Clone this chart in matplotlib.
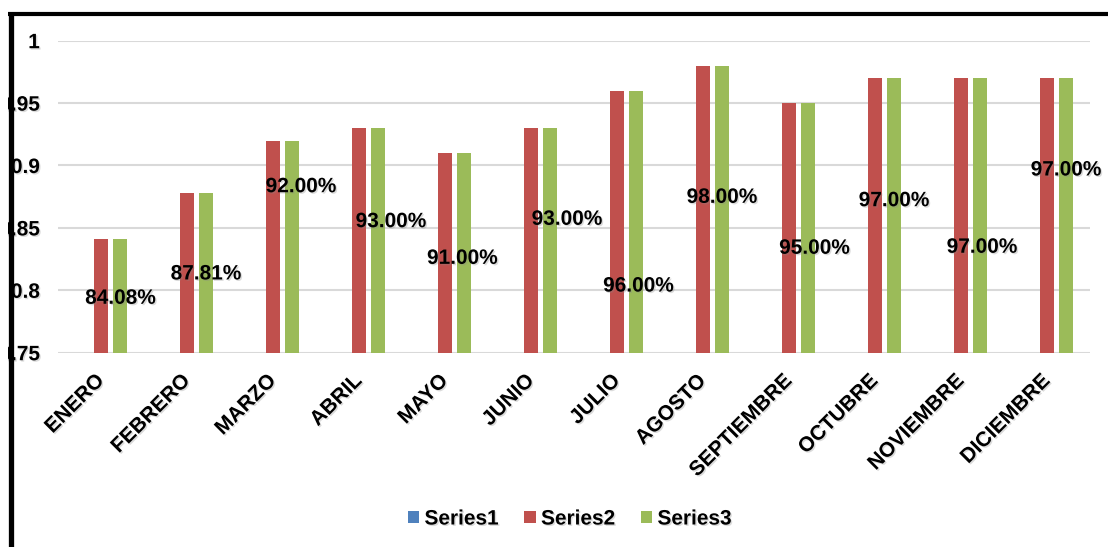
import matplotlib
matplotlib.use("Agg")
import matplotlib.pyplot as plt
import matplotlib.patheffects as pe
from matplotlib.lines import Line2D
from matplotlib.patches import Rectangle
import numpy as np

# ---- data ----
months = ["ENERO", "FEBRERO", "MARZO", "ABRIL", "MAYO", "JUNIO", "JULIO",
          "AGOSTO", "SEPTIEMBRE", "OCTUBRE", "NOVIEMBRE", "DICIEMBRE"]
series1 = [0, 0, 0, 0, 0, 0, 0, 0, 0, 0, 0, 0]
series2 = [0.8408, 0.8781, 0.92, 0.93, 0.91, 0.93, 0.96, 0.98, 0.95, 0.97, 0.97, 0.97]
series3 = [0.8408, 0.8781, 0.92, 0.93, 0.91, 0.93, 0.96, 0.98, 0.95, 0.97, 0.97, 0.97]
series_names = ["Series1", "Series2", "Series3"]
ytick_vals = [0.75, 0.8, 0.85, 0.9, 0.95, 1.0]
ytick_labels = ["0.75", "0.8", "0.85", "0.9", "0.95", "1"]

# data-label placement (as laid out in the original chart)
label_y = [0.7936, 0.8131, 0.8830, 0.8550, 0.8256, 0.8569,
           0.8034, 0.8745, 0.8337, 0.8718, 0.8345, 0.8964]
label_dx = [0.227, 0.221, 0.326, 0.372, 0.203, 0.419,
            0.25, 0.221, 0.297, 0.221, 0.244, 0.221]

colors = ["#4F81BD", "#C0504D", "#9BBB59"]
FONT = "Liberation Sans"
shadow = [pe.withSimplePatchShadow(offset=(1, -1), shadow_rgbFace="#888888", alpha=0.3)]

W, H = 1108, 547
fig = plt.figure(figsize=(W / 100, H / 100), dpi=100)
fig.patch.set_facecolor("white")

ax = fig.add_axes([58 / W, 1 - 352.7 / H, (1090 - 58) / W, (352.7 - 40.7) / H])
x = np.arange(len(months))
pitch = 0.221
width = 0.169
for i, (vals, c, name) in enumerate(zip([series1, series2, series3], colors, series_names)):
    ax.bar(x + (i - 1) * pitch, vals, width=width, color=c, label=name, zorder=3)

for xi, ly, dx, v in zip(x, label_y, label_dx, series3):
    ax.text(xi + dx, ly, f"{v * 100:.2f}%", ha="center", va="center",
            fontsize=15, fontweight="bold", family=FONT, color="black",
            zorder=5, path_effects=shadow)

ax.set_xlim(-0.5, len(months) - 0.5)
ax.set_ylim(0.75, 1.0)
ax.set_yticks(ytick_vals)
ax.set_yticklabels(ytick_labels)
ax.yaxis.grid(True, color="#D9D9D9", lw=1.5, zorder=0)
ax.set_axisbelow(True)
for s in ax.spines.values():
    s.set_visible(False)
ax.tick_params(axis="both", length=0)
ax.tick_params(axis="y", pad=13)
ax.set_xticks(x)
ax.set_xticklabels(months, rotation=45, ha="right", va="center",
                   rotation_mode="anchor")
ax.tick_params(axis="x", pad=18)
for lab in ax.get_xticklabels() + ax.get_yticklabels():
    lab.set_fontsize(15)
    lab.set_fontweight("bold")
    lab.set_family(FONT)
    lab.set_path_effects(shadow)

leg = fig.legend(loc="center", bbox_to_anchor=(570 / W, 1 - 519 / H), ncol=3,
                 frameon=False, handlelength=0.55, handleheight=0.55,
                 handletextpad=0.25, columnspacing=1.2,
                 prop={"family": FONT, "weight": "bold", "size": 15})
for t in leg.get_texts():
    t.set_path_effects(shadow)

# outer frame (cropped border of the original)
fig.add_artist(Rectangle((0, 0), 8 / W, 1, transform=fig.transFigure,
                         facecolor="white", edgecolor="none", zorder=9))
fig.add_artist(Rectangle((0, 1 - 11.5 / H), 1, 11.5 / H, transform=fig.transFigure,
                         facecolor="white", edgecolor="none", zorder=9))
fig.add_artist(Line2D([10.7 / W, 10.7 / W], [0, 1 - 11.5 / H], transform=fig.transFigure,
                      color="black", lw=3.8, solid_capstyle="butt", zorder=10))
fig.add_artist(Line2D([8 / W, 1], [1 - 13.7 / H, 1 - 13.7 / H], transform=fig.transFigure,
                      color="black", lw=3.0, solid_capstyle="butt", zorder=10))

fig.savefig("out.png", dpi=100, facecolor="white")
